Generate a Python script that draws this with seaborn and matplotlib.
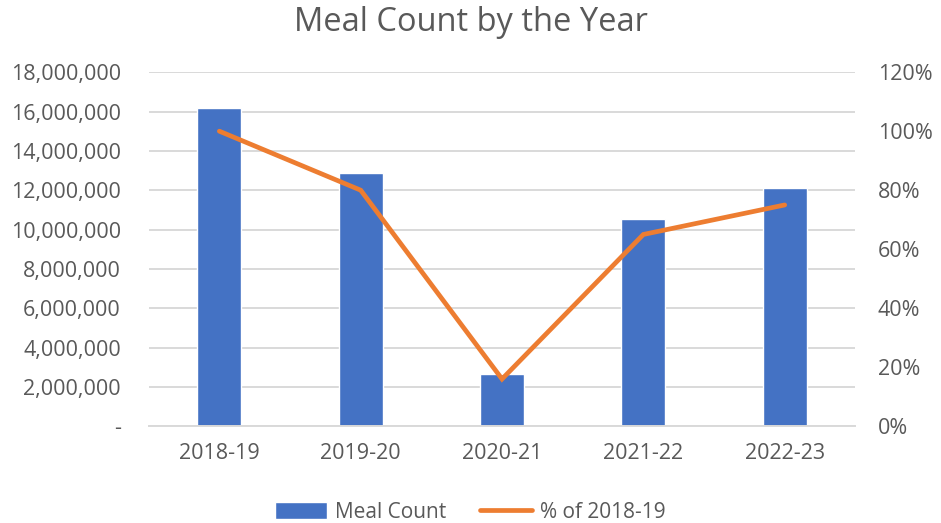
import matplotlib.pyplot as plt
import pandas as pd
import seaborn as sns
from matplotlib.lines import Line2D
from matplotlib.patches import Patch
from matplotlib.ticker import FuncFormatter, MultipleLocator

years = ["2018-19", "2019-20", "2020-21", "2021-22", "2022-23"]
meal_count = [16190000, 12850000, 2660000, 10530000, 12100000]
pct_of_base = [100, 80, 16, 65, 75]

df = pd.DataFrame({"year": years, "meals": meal_count, "pct": pct_of_base})

blue = "#4472C4"
orange = "#ED7D31"
grey = "#595959"

sns.set_style("white")
plt.rcParams["font.family"] = ["Open Sans", "DejaVu Sans"]

fig = plt.figure(figsize=(9.41, 5.23), dpi=100)
ax = fig.add_axes([0.158, 0.185, 0.751, 0.677])

sns.barplot(data=df, x="year", y="meals", color=blue, width=0.31,
            saturation=1, ax=ax, zorder=2)
ax.set_ylim(0, 18000000)
ax.yaxis.set_major_locator(MultipleLocator(2000000))
ax.yaxis.set_major_formatter(
    FuncFormatter(lambda v, p: "-" if v == 0 else f"{v:,.0f}"))
ax.grid(axis="y", color="#d9d9d9", linewidth=1.4, zorder=0)
ax.set_axisbelow(True)

ax2 = ax.twinx()
sns.pointplot(data=df, x="year", y="pct", color=orange, marker="",
              linewidth=3.4, errorbar=None, ax=ax2,
              solid_capstyle="round", solid_joinstyle="miter")
ax2.set_ylim(0, 120)
ax2.yaxis.set_major_locator(MultipleLocator(20))
ax2.yaxis.set_major_formatter(FuncFormatter(lambda v, p: f"{v:.0f}%"))
ax.set_xlim(-0.5, 4.5)

for a in (ax, ax2):
    a.set_xlabel("")
    a.set_ylabel("")
    for s in a.spines.values():
        s.set_visible(False)
    a.tick_params(length=0, labelsize=15.5, labelcolor=grey)
ax.tick_params(axis="y", pad=20)
ax.tick_params(axis="x", pad=12)
ax2.tick_params(axis="y", pad=16)
ax.spines["bottom"].set_visible(True)
ax.spines["bottom"].set_color("#d9d9d9")
ax.spines["bottom"].set_linewidth(1.4)

fig.suptitle("Meal Count by the Year", fontsize=23.5, color=grey, y=0.988)

handles = [Patch(facecolor=blue, label="Meal Count"),
           Line2D([0], [0], color=orange, lw=3.4, solid_capstyle="round",
                  label="% of 2018-19")]
fig.legend(handles=handles, loc="lower center", ncol=2, frameon=False,
           fontsize=15, labelcolor=grey, bbox_to_anchor=(0.5, -0.035),
           handlelength=2.5, handleheight=0.9, columnspacing=1.6,
           handletextpad=0.4)

fig.savefig("out.png", dpi=100)
